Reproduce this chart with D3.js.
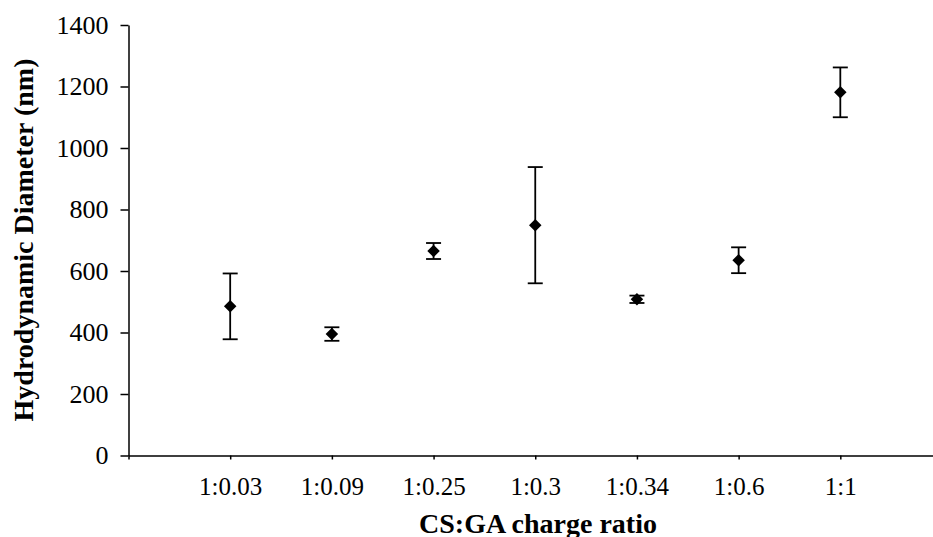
<!DOCTYPE html>
<html>
<head>
<meta charset="utf-8">
<script src="https://cdn.jsdelivr.net/npm/d3@7"></script>
<style>
  html, body { margin: 0; padding: 0; background: #fff; }
  svg { display: block; }
  .axis path, .axis line { stroke: #000; stroke-width: 1.5; }
</style>
</head>
<body>
<svg id="chart" width="933" height="537"></svg>
<script>
// Charge ratios of chitosan : gum arabic
const categories = ["1:0.03", "1:0.09", "1:0.25", "1:0.3", "1:0.34", "1:0.6", "1:1"];
// Mean hydrodynamic diameter (nm)
const diameters = [485, 395, 665, 749, 508, 635, 1181];
// Standard deviation (nm), drawn as symmetric error bars
const errors = [107, 22, 26, 189, 12, 42, 81];
// Y-axis tick values
const yTicks = [0, 200, 400, 600, 800, 1000, 1200, 1400];

const serif = "'Liberation Serif', 'Times New Roman', 'DejaVu Serif', serif";
const svg = d3.select("#chart");
const plotLeft = 128.5, plotBottom = 455.5, plotTop = 25, plotRight = 942;

const x = d3.scalePoint().domain(categories).range([plotLeft, plotRight]).padding(1);
const y = d3.scaleLinear().domain([0, 1400]).range([plotBottom, plotTop]);

// Y axis
const yAxis = svg.append("g")
  .attr("class", "axis")
  .attr("transform", `translate(${plotLeft},0)`)
  .call(d3.axisLeft(y).tickValues(yTicks).tickFormat(d3.format("d"))
    .tickSize(8).tickSizeOuter(0).tickPadding(12));
yAxis.attr("font-family", null).attr("font-size", null);
yAxis.selectAll("text")
  .style("font-family", serif)
  .style("font-size", "26px")
  .style("fill", "#000");

// X axis
const xAxis = svg.append("g")
  .attr("class", "axis")
  .attr("transform", `translate(0,${plotBottom})`)
  .call(d3.axisBottom(x).tickSize(4).tickSizeOuter(4).tickPadding(18));
xAxis.attr("font-family", null).attr("font-size", null);
xAxis.selectAll("text")
  .style("font-family", serif)
  .style("font-size", "25px")
  .style("fill", "#000");

// Error bars
const capHalf = 7.5;
const bars = svg.append("g")
  .attr("stroke", "#000")
  .attr("stroke-width", 1.8)
  .selectAll("g")
  .data(categories)
  .join("g");
bars.append("line")
  .attr("x1", d => x(d)).attr("x2", d => x(d))
  .attr("y1", (d, i) => y(diameters[i] + errors[i]))
  .attr("y2", (d, i) => y(diameters[i] - errors[i]));
bars.append("line")
  .attr("x1", d => x(d) - capHalf).attr("x2", d => x(d) + capHalf)
  .attr("y1", (d, i) => y(diameters[i] + errors[i]))
  .attr("y2", (d, i) => y(diameters[i] + errors[i]));
bars.append("line")
  .attr("x1", d => x(d) - capHalf).attr("x2", d => x(d) + capHalf)
  .attr("y1", (d, i) => y(diameters[i] - errors[i]))
  .attr("y2", (d, i) => y(diameters[i] - errors[i]));

// Diamond markers
const diamond = d3.symbol().type(d3.symbolDiamond2).size(100);
svg.append("g")
  .selectAll("path")
  .data(categories)
  .join("path")
  .attr("d", diamond)
  .attr("transform", (d, i) => `translate(${x(d)},${y(diameters[i])})`)
  .attr("fill", "#000");

// Axis titles
svg.append("text")
  .attr("x", 538)
  .attr("y", 533)
  .attr("text-anchor", "middle")
  .style("font-family", serif)
  .style("font-weight", "bold")
  .style("font-size", "28px")
  .text("CS:GA charge ratio");

svg.append("text")
  .attr("transform", "translate(33,240) rotate(-90)")
  .attr("text-anchor", "middle")
  .style("font-family", serif)
  .style("font-weight", "bold")
  .style("font-size", "28px")
  .text("Hydrodynamic Diameter (nm)");
</script>
</body>
</html>
